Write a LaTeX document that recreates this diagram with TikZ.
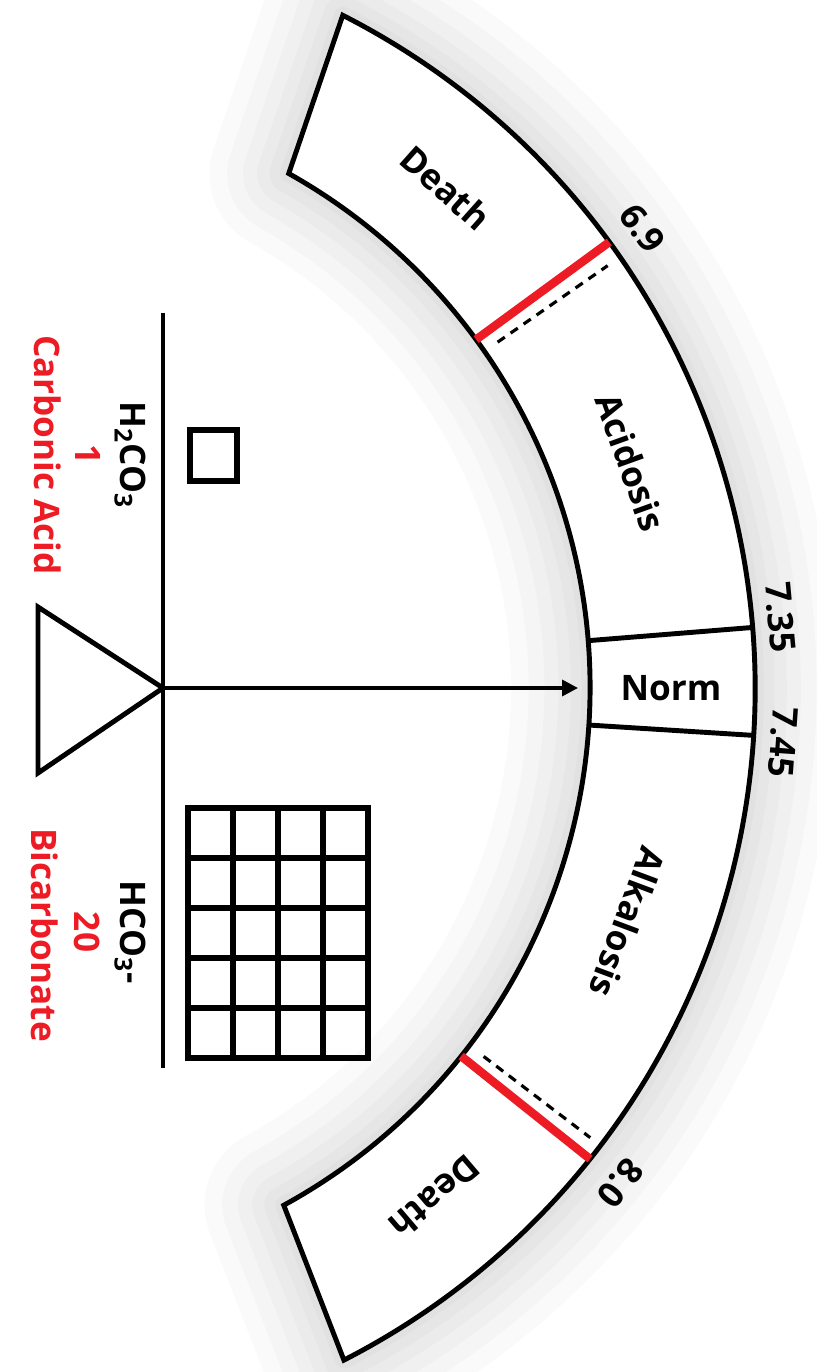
\documentclass[tikz,border=0pt]{standalone}
\usepackage{fontspec}
\setmainfont{Open Sans}
\usepackage{tikz}
\usetikzlibrary{arrows.meta}
\definecolor{acidred}{RGB}{237,28,36}
\newcommand{\bandpath}{(63:755) arc[start angle=63,end angle=-62.9,radius=755] -- (-61.25:590) arc[start angle=-61.25,end angle=60.7,radius=590] -- cycle}

\begin{document}
\begin{tikzpicture}[x=0.02cm,y=0.02cm,
    thickline/.style={line width=2.8pt},
    zone/.style={font=\fontsize{20}{24}\selectfont\bfseries,inner sep=0pt},
    ratio/.style={zone,text=acidred,rotate=-90}]
    \useasboundingbox (0,688) rectangle (817,-684);
    \fill[white] (0,688) rectangle (817,-684);

    % soft halo round the scale
    \foreach \w in {90,70,52,36,22,10}
        \draw[black,opacity=0.018,line width=\w pt,line join=round] \bandpath;
    \draw[thickline,fill=white,line join=miter] \bandpath;

    \draw[thickline] (4.6:590) -- (4.6:755);
    \draw[thickline] (-3.6:590) -- (-3.6:755);
    \draw[acidred,line width=4.8pt] (36.2:590) -- (36.2:755);
    \draw[acidred,line width=4.8pt] (-38.6:590) -- (-38.6:755);
    \draw[line width=1.8pt,dash pattern=on 5pt off 4pt] (34.8:606) -- (34.8:740);
    \draw[line width=1.8pt,dash pattern=on 5pt off 4pt] (-37.3:608) -- (-37.3:742);

    \node[zone,rotate=-41.7] (death1) at (48.3:670) {Death};
    \node[zone,rotate=-70.3] (acid) at (19.7:670) {Acidosis};
    \node[zone] (norm) at (671,0) {Norm};
    \node[zone,rotate=-110.5] (alk) at (-20.5:670) {Alkalosis};
    \node[zone,rotate=-139.5] (death2) at (-49.5:670) {Death};

    \node[zone,rotate=-54.2] (ph69) at (35.6:790) {6.9};
    \node[zone,rotate=-84.8] (ph735) at (5.2:784) {7.35};
    \node[zone,rotate=-94] (ph745) at (-4:785) {7.45};
    \node[zone,rotate=-128.4] (ph80) at (-38.6:794) {8.0};

    % balance
    \coordinate (apex) at (163,0);
    \coordinate (tip) at (578,0);
    \draw[thickline,line join=miter] (38,81) -- (38,-85) -- (apex) -- cycle;
    \draw[thickline] (163,375) -- (163,-380);
    \draw[-{Triangle[length=9pt,width=9pt]},line width=2pt] (apex) -- (tip);

    \draw[line width=3pt] (190,258) rectangle (237,207);
    \foreach \i in {0,...,4}
        \draw[line width=3pt] (188+45*\i,-120) -- (188+45*\i,-370);
    \foreach \j in {0,...,5}
        \draw[line width=3pt] (188,-120-50*\j) -- (368,-120-50*\j);
    \draw[line width=3pt] (188,-120) rectangle (368,-370);

    \node[zone,rotate=-90] (acidf) at (130,233) {H\textsubscript{2}CO\textsubscript{3}};
    \node[ratio] (one) at (88,233) {1};
    \node[ratio] (acidn) at (48,233) {Carbonic Acid};
    \node[zone,rotate=-90] (basef) at (130,-244) {HCO\textsubscript{3}-};
    \node[ratio] (twenty) at (87,-244) {20};
    \node[ratio] (basen) at (45,-247) {Bicarbonate};
\end{tikzpicture}
\end{document}
